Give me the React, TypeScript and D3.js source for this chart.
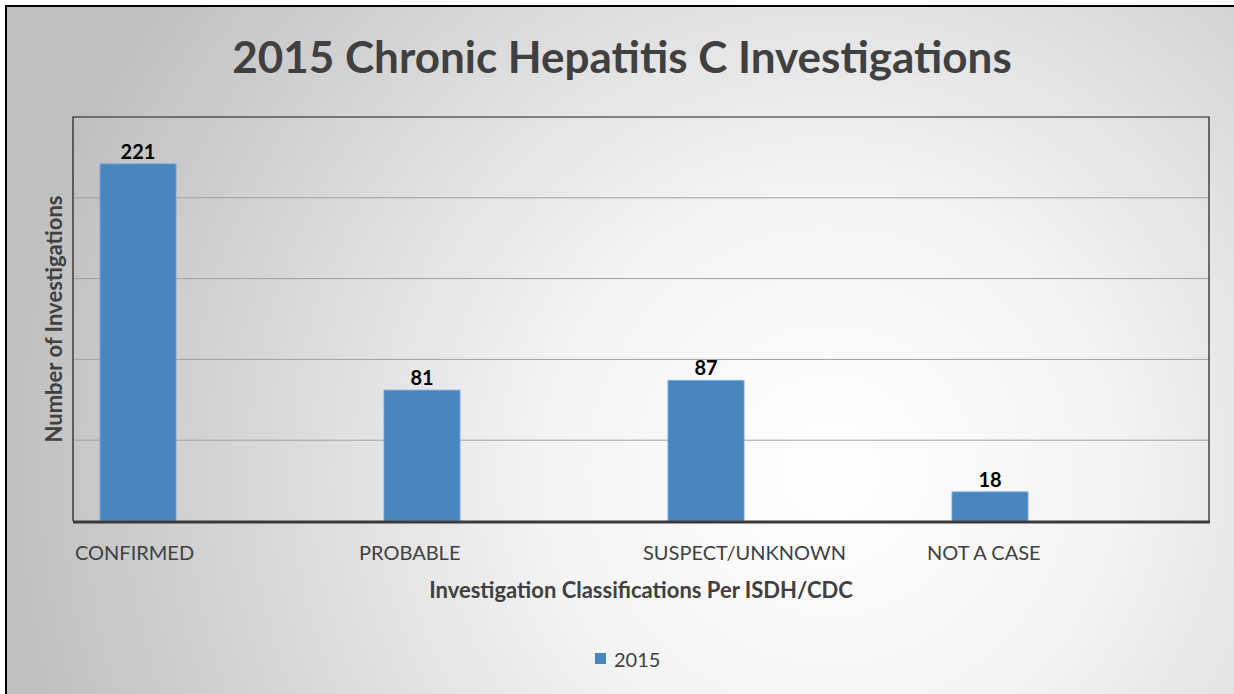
import React from "react";
import * as d3 from "d3";

const categories = ["CONFIRMED", "PROBABLE", "SUSPECT/UNKNOWN", "NOT A CASE"];
const values2015 = [221, 81, 87, 18];
const yTicks = [0, 50, 100, 150, 200, 250];
const seriesName = "2015";
const titleText = "2015 Chronic Hepatitis C Investigations";
const xTitle = "Investigation Classifications Per ISDH/CDC";
const yTitle = "Number of Investigations";

const W = 1234;
const H = 694;
const plot = { left: 73, right: 1209, top: 117, bottom: 521 };
const FONT = "Lato, 'Open Sans', sans-serif";

export default function App() {
  const x = d3.scaleBand<string>().domain(categories).range([plot.left, plot.right]).padding(0);
  const y = d3.scaleLinear().domain([0, 250]).range([plot.bottom, plot.top]);
  const barOffset = 27;
  const barW = 76;
  const barColor = "#4a85bf";

  return (
    <div style={{ position: "fixed", left: 0, top: 0, width: W, height: H, overflow: "hidden", background: "#fff" }}>
      <svg width={W} height={H} style={{ display: "block" }} fontFamily={FONT}>
        <defs>
          <radialGradient id="bg" gradientUnits="userSpaceOnUse" cx={830} cy={470} r={830}>
            <stop offset="0" stopColor="#ffffff" />
            <stop offset="0.35" stopColor="#f3f3f3" />
            <stop offset="1" stopColor="#bfbfbf" />
          </radialGradient>
        </defs>
        <rect x={0} y={0} width={W} height={H} fill="#ffffff" />
        <rect x={7} y={7} width={W - 7} height={H - 7} fill="url(#bg)" />
        <line x1={6} x2={6} y1={5} y2={H} stroke="#000" strokeWidth={2} />
        <line x1={5} x2={W} y1={6} y2={6} stroke="#000" strokeWidth={2} />

        {yTicks.slice(1, -1).map((t) => (
          <line key={t} x1={plot.left} x2={plot.right} y1={y(t)} y2={y(t)} stroke="#a0a0a0" strokeWidth={1} />
        ))}

        <path
          d={`M${plot.left},${plot.bottom} V${plot.top} H${plot.right} V${plot.bottom}`}
          fill="none"
          stroke="#1a1a1a"
          strokeWidth={1.2}
        />

        {categories.map((c, i) => {
          const bx = (x(c) as number) + barOffset;
          const by = y(values2015[i]);
          return (
            <g key={c}>
              <rect x={bx} y={by} width={barW} height={plot.bottom - by} fill={barColor} stroke="#7aa7d6" strokeWidth={1} />
              <text x={bx + barW / 2} y={by - 5} textAnchor="middle" fontSize={20} fontWeight={700} fill="#000">
                {values2015[i]}
              </text>
            </g>
          );
        })}

        <line x1={plot.left} x2={plot.right + 1} y1={plot.bottom + 1} y2={plot.bottom + 1} stroke="#3a3a3a" strokeWidth={3} />

        {categories.map((c) => (
          <text key={c} x={(x(c) as number) + 2} y={560} fontSize={20} fill="#404040">
            {c}
          </text>
        ))}

        <text x={622} y={73} textAnchor="middle" fontSize={44} fontWeight={700} fill="#404040">
          {titleText}
        </text>
        <text x={641} y={598} textAnchor="middle" fontSize={22} fontWeight={700} fill="#404040">
          {xTitle}
        </text>
        <text transform={`translate(62, 319) rotate(-90)`} textAnchor="middle" fontSize={22} fontWeight={700} fill="#404040">
          {yTitle}
        </text>

        <rect x={595} y={653} width={11} height={11} fill={barColor} />
        <text x={614} y={667} fontSize={20} fill="#404040">
          {seriesName}
        </text>
      </svg>
    </div>
  );
}
